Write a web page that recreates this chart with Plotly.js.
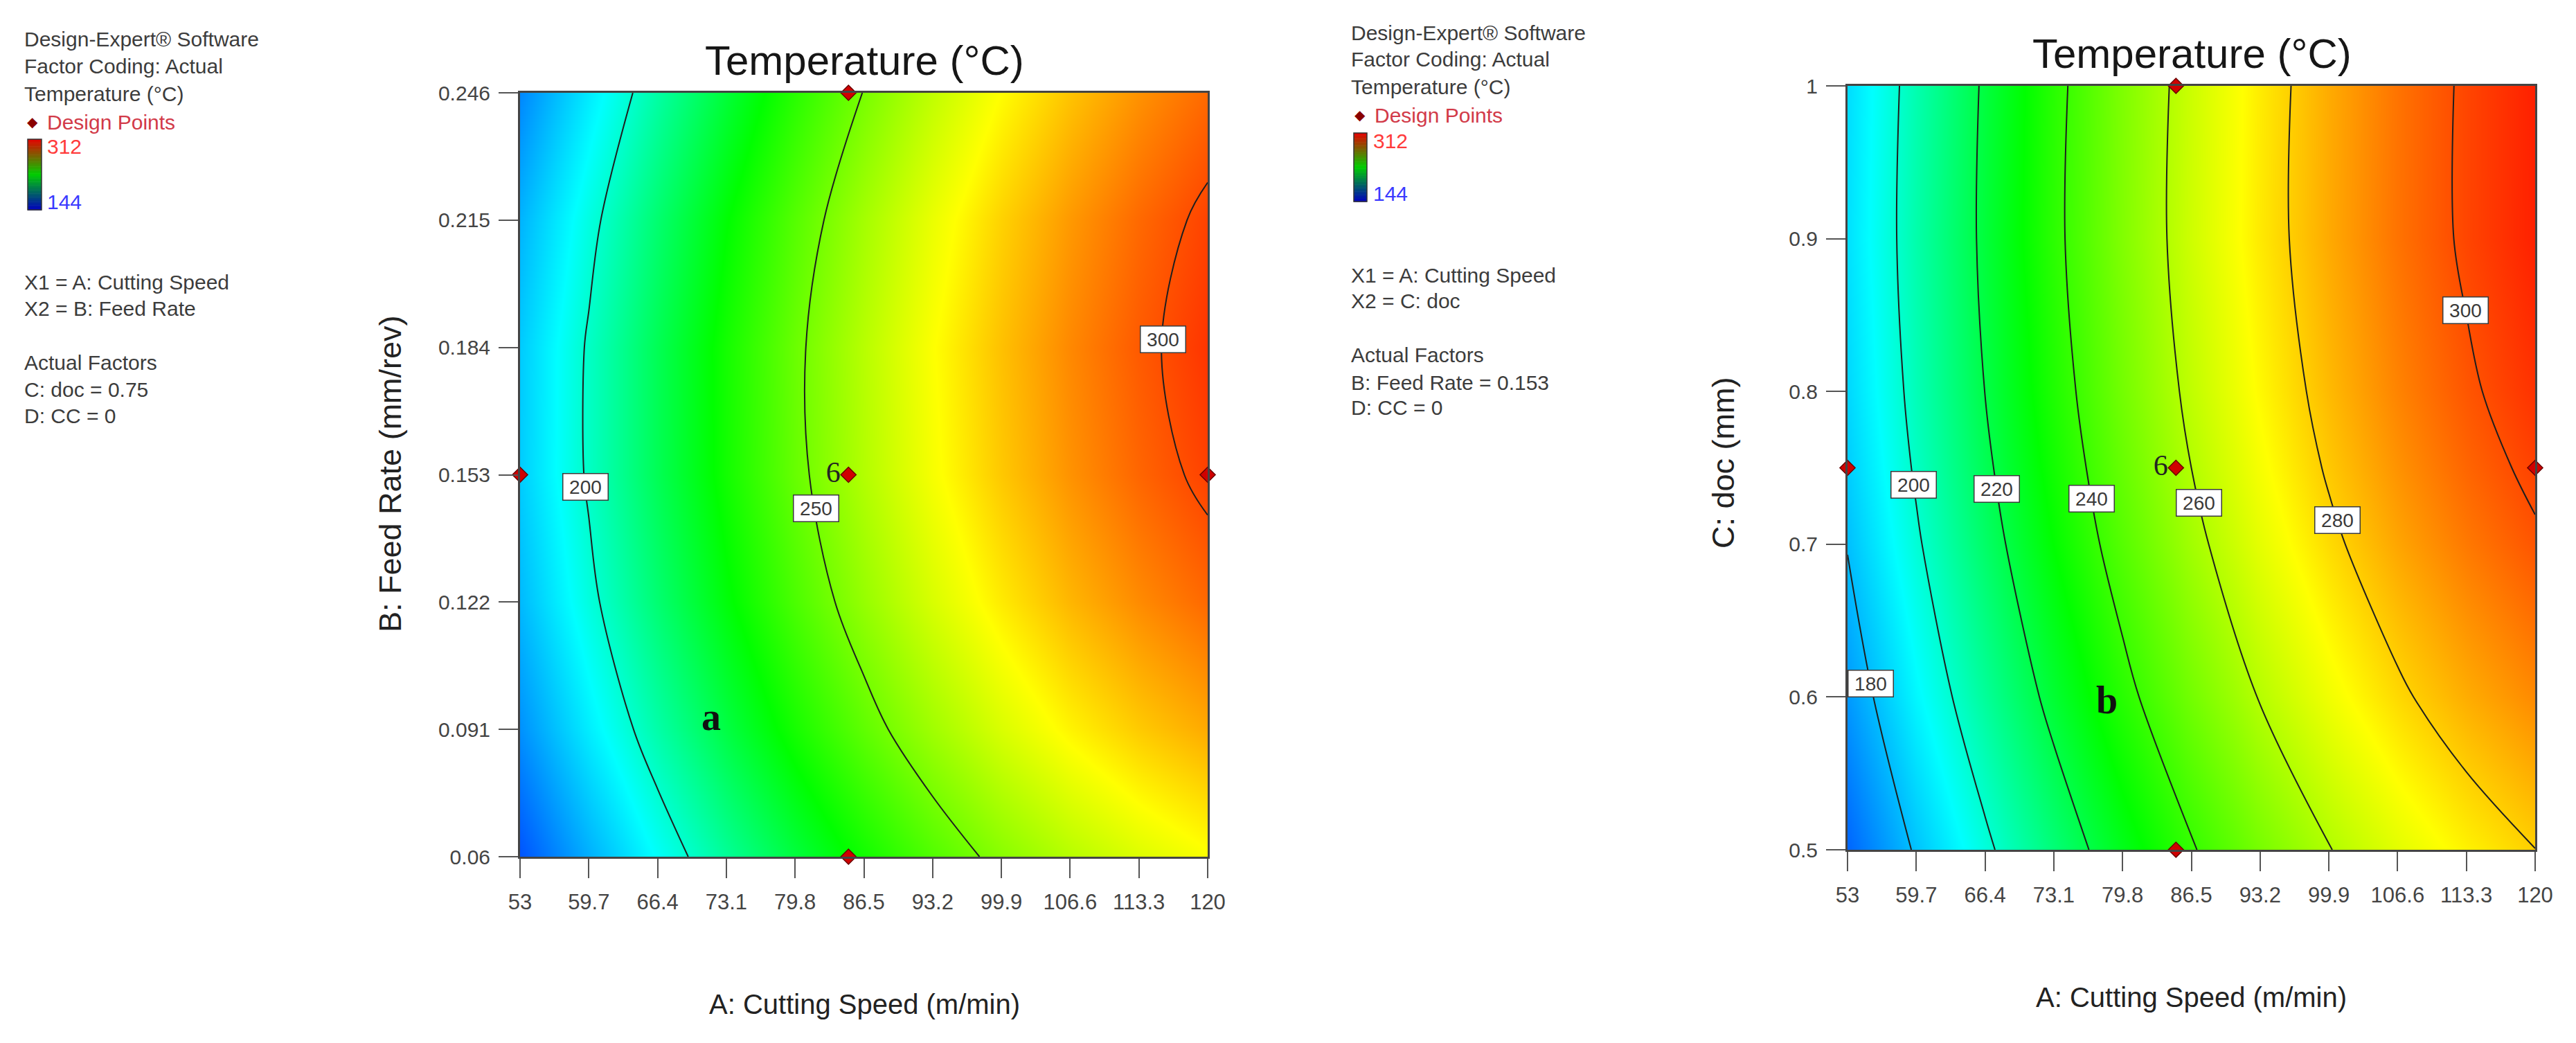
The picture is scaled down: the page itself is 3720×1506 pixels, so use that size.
<!DOCTYPE html>
<html>
<head>
<meta charset="utf-8">
<script src="https://cdn.plot.ly/plotly-3.0.1.min.js"></script>
<style>html,body{margin:0;padding:0;background:#fff;}</style>
</head>
<body>
<div id="chart" style="width:3720px;height:1506px;"></div>
<script>
// ---------------- DATA ----------------
const speedTicks = [53, 59.7, 66.4, 73.1, 79.8, 86.5, 93.2, 99.9, 106.6, 113.3, 120];
const speedTickText = ['53', '59.7', '66.4', '73.1', '79.8', '86.5', '93.2', '99.9', '106.6', '113.3', '120'];
const feedTicks = [0.06, 0.091, 0.122, 0.153, 0.184, 0.215, 0.246];
const feedTickText = ['0.06', '0.091', '0.122', '0.153', '0.184', '0.215', '0.246'];
const docTicks = [0.5, 0.6, 0.7, 0.8, 0.9, 1];
const docTickText = ['0.5', '0.6', '0.7', '0.8', '0.9', '1'];

// grid of the response surface
const gridSpeed = [53, 59.7, 66.4, 73.1, 79.8, 86.5, 93.2, 99.9, 106.6, 113.3, 120];
const gridFeed = [0.06, 0.091, 0.122, 0.153, 0.184, 0.215, 0.246];
const gridDoc = [0.5, 0.6, 0.7, 0.75, 0.8, 0.9, 1.0];

// Temperature (°C) vs Cutting Speed (columns) and Feed Rate (rows), doc = 0.75
const tempSpeedFeed = [
  [159.9, 177.4, 193.5, 208.1, 221.4, 233.3, 243.8, 252.9, 260.5, 266.8, 271.7],
  [171.7, 189.4, 205.7, 220.6, 234.1, 246.2, 256.9, 266.3, 274.2, 280.7, 285.8],
  [179.4, 197.4, 213.9, 229.1, 242.8, 255.2, 266.1, 275.6, 283.8, 290.5, 295.9],
  [183.1, 201.3, 218.1, 233.4, 247.4, 260.0, 271.2, 281.0, 289.3, 296.3, 301.9],
  [182.7, 201.2, 218.2, 233.8, 248.0, 260.8, 272.2, 282.2, 290.9, 298.1, 303.9],
  [178.3, 197.0, 214.2, 230.1, 244.5, 257.6, 269.2, 279.5, 288.3, 295.8, 301.8],
  [169.9, 188.8, 206.3, 222.3, 237.0, 250.3, 262.2, 272.7, 281.7, 289.4, 295.7]
];
// Temperature (°C) vs Cutting Speed (columns) and doc (rows), feed = 0.153
const tempSpeedDoc = [
  [163.3, 181.3, 197.8, 213.0, 226.7, 239.1, 250.1, 259.6, 267.8, 274.5, 279.9],
  [173.2, 191.3, 207.9, 223.2, 237.0, 249.5, 260.5, 270.2, 278.4, 285.3, 290.7],
  [180.5, 198.6, 215.4, 230.7, 244.6, 257.2, 268.3, 278.0, 286.4, 293.3, 298.8],
  [183.1, 201.3, 218.1, 233.4, 247.4, 260.0, 271.2, 281.0, 289.3, 296.3, 301.9],
  [185.0, 203.3, 220.1, 235.5, 249.5, 262.2, 273.4, 283.2, 291.6, 298.7, 304.3],
  [186.9, 205.2, 222.1, 237.7, 251.8, 264.5, 275.8, 285.7, 294.2, 301.3, 307.0],
  [186.1, 204.5, 221.5, 237.1, 251.3, 264.1, 275.5, 285.5, 294.1, 301.3, 307.1]
];

const levelsAB = [200, 250, 300];
const levelsAC = [180, 200, 220, 240, 260, 280, 300];
const tempMin = 144, tempMax = 312;

const designSpeed = [53, 85, 85, 85, 120];
const designFeed = [0.153, 0.246, 0.153, 0.06, 0.153];
const designDoc = [0.75, 1, 0.75, 0.5, 0.75];
const designReps = ['', '', '6', '', ''];

// ---------------- LAYOUT HELPERS ----------------
const W = 3720, H = 1506;
const px = v => v / W;
const py = v => 1 - v / H;
const SANS = 'Liberation Sans, Arial, sans-serif';
const SERIF = 'Liberation Serif, Times New Roman, serif';

const colorscale = [
  [0, 'rgb(0,0,255)'], [0.29, 'rgb(0,255,255)'], [0.515, 'rgb(0,255,0)'],
  [0.765, 'rgb(255,255,0)'], [1, 'rgb(255,0,0)']
];

function contourTrace(xs, ys, z, levels, xa, ya) {
  return {
    type: 'contour', x: xs, y: ys, z: z, xaxis: xa, yaxis: ya,
    colorscale: colorscale, zmin: tempMin, zmax: tempMax, zauto: false,
    autocontour: false,
    contours: { start: levels[0], end: levels[levels.length - 1], size: levels[1] - levels[0], coloring: 'heatmap', showlabels: false },
    line: { color: '#1e1e1e', width: 2, smoothing: 1 },
    showscale: false, hoverinfo: 'skip'
  };
}
function designTrace(xs, ys, xa, ya) {
  return {
    type: 'scatter', mode: 'markers+text', x: xs, y: ys, text: designReps,
    textposition: 'middle left', textfont: { family: SERIF, size: 42, color: '#222' },
    xaxis: xa, yaxis: ya, cliponaxis: false, hoverinfo: 'skip', showlegend: false,
    marker: { symbol: 'diamond', size: 17, color: '#d00000', line: { color: '#6a0000', width: 1.5 } }
  };
}

// position of a contour label: x where the surface crosses the level along a chosen row height
function crossX(xs, ys, z, level, yAt) {
  let j = 0;
  while (j < ys.length - 2 && ys[j + 1] < yAt) j++;
  const t = (yAt - ys[j]) / (ys[j + 1] - ys[j]);
  const row = z[j].map((v, i) => v * (1 - t) + z[j + 1][i] * t);
  for (let i = 0; i < xs.length - 1; i++) {
    const a = row[i] - level, b = row[i + 1] - level;
    if (a === 0) return xs[i];
    if (a * b < 0) return xs[i] + (level - row[i]) / (row[i + 1] - row[i]) * (xs[i + 1] - xs[i]);
  }
  return null;
}
// where along each line its label sits (row height)
const labelRowAB = { 200: 0.150, 250: 0.1448, 300: 0.186 };
const labelRowAC = { 180: 0.609, 200: 0.739, 220: 0.736, 240: 0.730, 260: 0.727, 280: 0.716, 300: 0.853 };

function contourLabels(xs, ys, z, levels, rows, xr, yr) {
  const out = [];
  levels.forEach(lv => {
    const yAt = rows[lv];
    const x = crossX(xs, ys, z, lv, yAt);
    if (x === null) return;
    out.push({
      xref: xr, yref: yr, x: x, y: yAt, text: '\u2009' + String(lv) + '\u2009', showarrow: false,
      bgcolor: '#ffffff', bordercolor: '#3a3a3a', borderwidth: 1.5, borderpad: 3,
      font: { family: SANS, size: 28, color: '#3a3a3a' }
    });
  });
  return out;
}

function txt(text, x, y, opts) {
  return Object.assign({
    xref: 'paper', yref: 'paper', x: px(x), y: py(y), text: text, showarrow: false,
    xanchor: 'left', yanchor: 'middle', font: { family: SANS, size: 30, color: '#3c3c3c' }
  }, opts || {});
}

function legendBlock(x0, lines, dp, hi, lo) {
  const anns = [];
  lines.forEach(l => anns.push(txt(l[0], x0, l[1])));
  anns.push(txt('◆', dp[0], dp[2], { font: { family: 'DejaVu Sans, sans-serif', size: 20, color: '#8a0000' }, xanchor: 'center' }));
  anns.push(txt('Design Points', dp[1], dp[2], { font: { family: SANS, size: 30, color: '#d23a48' } }));
  anns.push(txt('312', hi[0], hi[1], { font: { family: SANS, size: 30, color: '#ff3b3b' } }));
  anns.push(txt('144', lo[0], lo[1], { font: { family: SANS, size: 30, color: '#3a3aff' } }));
  return anns;
}

function barShapes(x0, x1, y0, y1) {
  const shapes = [];
  const n = 60;
  const top = [230, 0, 0], mid = [0, 205, 0], bot = [0, 0, 190];
  for (let k = 0; k < n; k++) {
    const f = (k + 0.5) / n; // 0 at top
    let c;
    if (f < 0.5) { const t = f / 0.5; c = top.map((v, i) => Math.round(v + (mid[i] - v) * t)); }
    else { const t = (f - 0.5) / 0.5; c = mid.map((v, i) => Math.round(v + (bot[i] - v) * t)); }
    const ya = y0 + (y1 - y0) * k / n, yb = y0 + (y1 - y0) * (k + 1) / n + 0.6;
    shapes.push({ type: 'rect', xref: 'paper', yref: 'paper', x0: px(x0), x1: px(x1), y0: py(ya), y1: py(yb),
      fillcolor: 'rgb(' + c.join(',') + ')', line: { width: 0 }, layer: 'above' });
  }
  shapes.push({ type: 'rect', xref: 'paper', yref: 'paper', x0: px(x0), x1: px(x1), y0: py(y0), y1: py(y1),
    line: { color: '#333', width: 1.5 }, layer: 'above' });
  return shapes;
}

// ---------------- TRACES ----------------
const traces = [
  contourTrace(gridSpeed, gridFeed, tempSpeedFeed, levelsAB, 'x', 'y'),
  contourTrace(gridSpeed, gridDoc, tempSpeedDoc, levelsAC, 'x2', 'y2'),
  designTrace(designSpeed, designFeed, 'x', 'y'),
  designTrace(designSpeed, designDoc, 'x2', 'y2')
];

// ---------------- AXES ----------------
function xAxis(dom, anchor) {
  return {
    domain: dom, anchor: anchor, range: [53, 120], tickmode: 'array', tickvals: speedTicks, ticktext: speedTickText,
    ticks: 'outside', ticklen: 28, tickwidth: 2, tickcolor: '#555',
    showline: true, linecolor: '#444', linewidth: 3, mirror: true,
    showgrid: false, zeroline: false,
    tickfont: { family: SANS, size: 31, color: '#444' }, ticklabelstandoff: 8
  };
}
function yAxis(dom, anchor, range, vals, texts) {
  return {
    domain: dom, anchor: anchor, range: range, tickmode: 'array', tickvals: vals, ticktext: texts,
    ticks: 'outside', ticklen: 28, tickwidth: 2, tickcolor: '#555',
    showline: true, linecolor: '#444', linewidth: 3, mirror: true,
    showgrid: false, zeroline: false,
    tickfont: { family: SANS, size: 30, color: '#444' }, ticklabelstandoff: 6
  };
}

const annotations = [];
// chart titles
annotations.push(txt('Temperature (°C)', 1248, 88, { xanchor: 'center', font: { family: SANS, size: 60, color: '#161616' } }));
annotations.push(txt('Temperature (°C)', 3165, 78, { xanchor: 'center', font: { family: SANS, size: 60, color: '#161616' } }));
// axis titles
annotations.push(txt('A: Cutting Speed (m/min)', 1248, 1450, { xanchor: 'center', font: { family: SANS, size: 40, color: '#222' } }));
annotations.push(txt('A: Cutting Speed (m/min)', 3164, 1440, { xanchor: 'center', font: { family: SANS, size: 40, color: '#222' } }));
annotations.push(txt('B: Feed Rate (mm/rev)', 563, 684, { xanchor: 'center', textangle: -90, font: { family: SANS, size: 45, color: '#222' } }));
annotations.push(txt('C: doc (mm)', 2488, 668, { xanchor: 'center', textangle: -90, font: { family: SANS, size: 45, color: '#222' } }));
// panel letters
annotations.push({ xref: 'x', yref: 'y', x: 71.6, y: 0.094, text: '<b>a</b>', showarrow: false, font: { family: SERIF, size: 56, color: '#111' } });
annotations.push({ xref: 'x2', yref: 'y2', x: 78.3, y: 0.598, text: '<b>b</b>', showarrow: false, font: { family: SERIF, size: 56, color: '#111' } });

// legends
annotations.push(...legendBlock(33, [
  ['Design-Expert® Software', 57], ['Factor Coding: Actual', 96], ['Temperature (°C)', 135],
  ['X1 = A: Cutting Speed', 407], ['X2 = B: Feed Rate', 446],
  ['Actual Factors', 523], ['C: doc = 0.75', 562], ['D: CC = 0', 600]
], [47, 66, 176], [66, 212], [66, 291]));
annotations.push(...legendBlock(1949, [
  ['Design-Expert® Software', 48], ['Factor Coding: Actual', 86], ['Temperature (°C)', 125],
  ['X1 = A: Cutting Speed', 397], ['X2 = C: doc', 435],
  ['Actual Factors', 513], ['B: Feed Rate = 0.153', 552], ['D: CC = 0', 588]
], [1964, 1983, 166], [1981, 203], [1981, 279]));

// contour labels
annotations.push(...contourLabels(gridSpeed, gridFeed, tempSpeedFeed, levelsAB, labelRowAB, 'x', 'y'));
annotations.push(...contourLabels(gridSpeed, gridDoc, tempSpeedDoc, levelsAC, labelRowAC, 'x2', 'y2'));

const shapes = [].concat(barShapes(40, 60, 201, 303), barShapes(1955, 1974, 192, 291));

const layout = {
  width: W, height: H, autosize: false,
  margin: { l: 0, r: 0, t: 0, b: 0, pad: 0 },
  paper_bgcolor: '#ffffff', plot_bgcolor: '#ffffff',
  showlegend: false,
  xaxis: xAxis([751 / W, 1744 / W], 'y'),
  yaxis: yAxis([1 - 1237 / H, 1 - 134 / H], 'x', [0.06, 0.246], feedTicks, feedTickText),
  xaxis2: xAxis([2668 / W, 3661 / W], 'y2'),
  yaxis2: yAxis([1 - 1227 / H, 1 - 124 / H], 'x2', [0.5, 1], docTicks, docTickText),
  annotations: annotations,
  shapes: shapes
};

Plotly.newPlot('chart', traces, layout, { staticPlot: true, displayModeBar: false });
</script>
</body>
</html>
